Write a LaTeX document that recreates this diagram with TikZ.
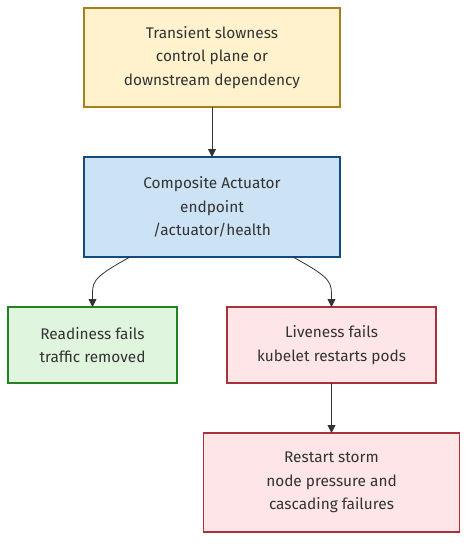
\documentclass[tikz,border=0pt]{standalone}
\usepackage{fontspec}
\setmainfont{Fira Sans}
\usetikzlibrary{arrows.meta, positioning}

\definecolor{causefill}{HTML}{FFF2CC}
\definecolor{causedraw}{HTML}{A57F1B}
\definecolor{probefill}{HTML}{CCE3F6}
\definecolor{probedraw}{HTML}{134B7E}
\definecolor{readyfill}{HTML}{E0F5DD}
\definecolor{readydraw}{HTML}{23821F}
\definecolor{failfill}{HTML}{FDE5E8}
\definecolor{faildraw}{HTML}{A8313A}
\definecolor{inkgray}{HTML}{333333}

\begin{document}
\begin{tikzpicture}[
x=1pt, y=1pt,
node distance=50pt,
box/.style={rectangle, draw, line width=1.5pt, align=center, text=inkgray, font=\fontsize{15.4}{23.5}\selectfont, minimum width=256pt, minimum height=99pt, inner sep=0pt, outer sep=0pt},
line/.style={-{Triangle[length=8pt,width=8pt]}, draw=inkgray, line width=0.8pt}
]
\useasboundingbox (0,0) rectangle (475,-550);

\node[box, fill=causefill, draw=causedraw] (cause) at (212,-57.5) {Transient slowness\\ control plane or\\ downstream dependency};
\node[box, below=of cause, fill=probefill, draw=probedraw, minimum height=100pt] (probe) {Composite Actuator\\ endpoint\\ /actuator/health};
\node[box, below=of probe.south, xshift=-119.5pt, minimum width=169pt, minimum height=76pt, fill=readyfill, draw=readydraw] (ready) {Readiness fails\\ traffic removed};
\node[box, below=of probe.south, xshift=119.5pt, minimum width=209pt, minimum height=76pt, fill=failfill, draw=faildraw] (live) {Liveness fails\\ kubelet restarts pods};
\node[box, below=of live, fill=failfill, draw=faildraw] (storm) {Restart storm\\ node pressure and\\ cascading failures};

\draw[line] (cause) -- (probe);
\draw[line] ([xshift=-82pt]probe.south) .. controls +(-40,-22) and +(0,25) .. (ready.north);
\draw[line] ([xshift=81pt]probe.south) .. controls +(40,-22) and +(0,25) .. (live.north);
\draw[line] (live) -- (storm);

\end{tikzpicture}
\end{document}
